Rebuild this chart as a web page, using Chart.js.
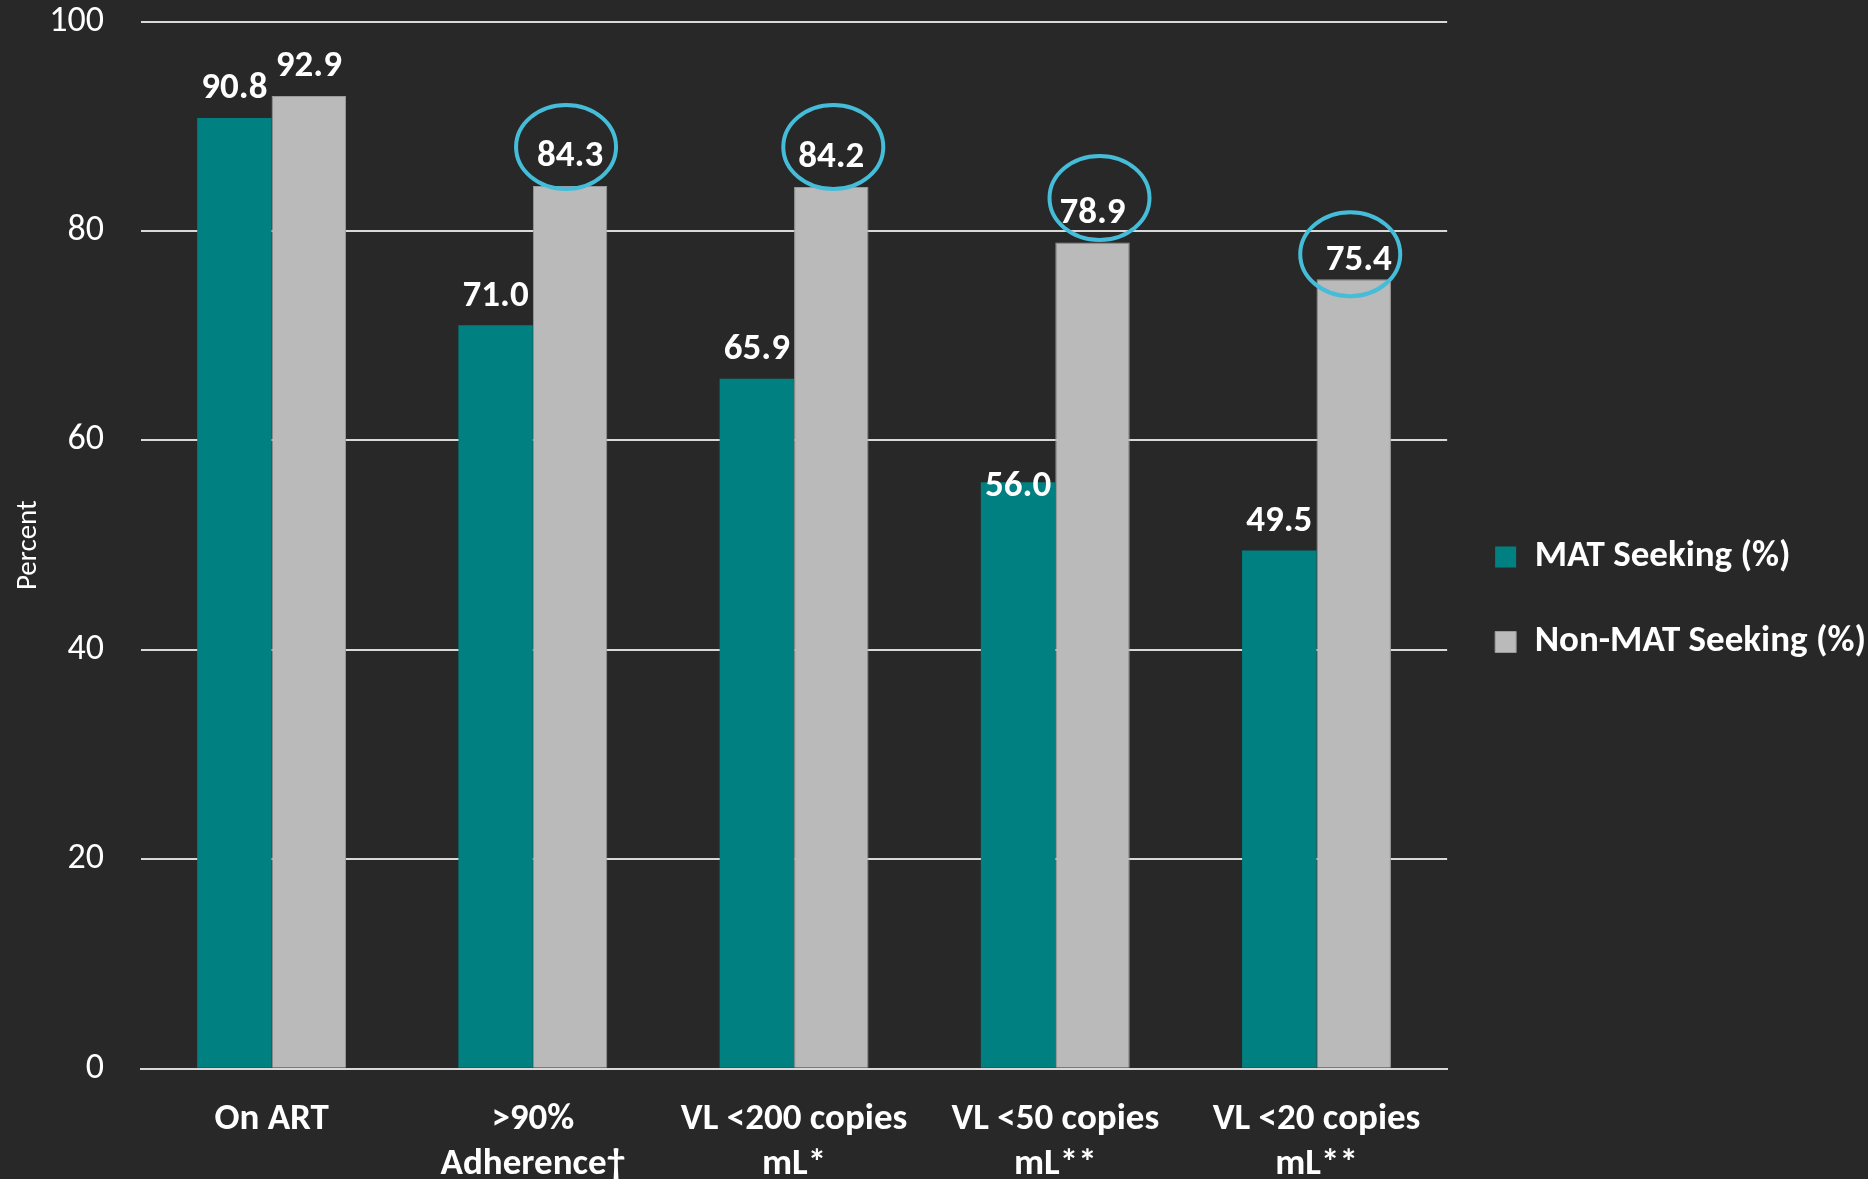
<!DOCTYPE html>
<html>
<head>
<meta charset="utf-8">
<script src="https://cdn.jsdelivr.net/npm/chart.js@4.4.1/dist/chart.umd.min.js"></script>
<style>
  html, body { margin: 0; padding: 0; background: #282828; overflow: hidden; }
  #wrap { position: relative; width: 1868px; height: 1179px; overflow: hidden; }
  #c { position: absolute; left: 0; top: -36.6px; }
</style>
</head>
<body>
<div id="wrap"><canvas id="c" width="1868" height="1285"></canvas></div>
<script>
const categories = ["On ART", [">90%", "Adherence\u2020"], ["VL <200 copies", "mL*"], ["VL <50 copies", "mL**"], ["VL <20 copies", "mL**"]];
const matSeeking = [90.8, 71.0, 65.9, 56.0, 49.5];
const nonMatSeeking = [92.9, 84.3, 84.2, 78.9, 75.4];
const highlighted = [false, true, true, true, true];
const yTicks = [0, 20, 40, 60, 80, 100];

const FONT = "Carlito, Lato, sans-serif";

const labelPlugin = {
  id: 'valueLabels',
  afterDatasetsDraw(chart) {
    const ctx = chart.ctx;
    const opts = chart.options.plugins.valueLabels;
    ctx.save();
    ctx.font = `bold ${opts.size}px ${FONT}`;
    ctx.fillStyle = '#ffffff';
    ctx.textAlign = 'center';
    ctx.textBaseline = 'middle';
    chart.data.datasets.forEach((ds, di) => {
      const meta = chart.getDatasetMeta(di);
      meta.data.forEach((bar, i) => {
        const sh = (opts.shifts[di] && opts.shifts[di][i]) || {};
        const dy = sh.dy !== undefined ? sh.dy : opts.offset;
        const dx = sh.dx || 0;
        ctx.fillText(ds.data[i].toFixed(1), bar.x + dx, bar.y - dy);
        if (di === 1 && highlighted[i]) {
          const c = opts.circles[i] || { dx: 0, dy: 40 };
          ctx.beginPath();
          ctx.strokeStyle = '#45bdd9';
          ctx.lineWidth = 4;
          ctx.ellipse(bar.x + c.dx, bar.y - c.dy, 50, 42, 0, 0, Math.PI * 2);
          ctx.stroke();
        }
      });
    });
    ctx.restore();
  }
};

new Chart(document.getElementById('c'), {
  type: 'bar',
  data: {
    labels: categories,
    datasets: [
      { label: 'MAT Seeking (%)', data: matSeeking, backgroundColor: '#008080', borderWidth: 0 },
      { label: 'Non-MAT Seeking (%)', data: nonMatSeeking, backgroundColor: '#bababa', borderColor: '#9a9a9a', borderWidth: 1 }
    ]
  },
  options: {
    responsive: false,
    animation: false,
    categoryPercentage: 0.57,
    barPercentage: 1.0,
    layout: { padding: { left: 11, top: 3, right: -8, bottom: 15 } },
    scales: {
      x: {
        afterFit(scale) { scale.height = 164.3; },
        grid: { display: false, drawTicks: false },
        border: { display: true, color: '#d9d9d9', width: 2 },
        ticks: {
          color: '#ffffff',
          padding: 28.5,
          maxRotation: 0,
          autoSkip: false,
          font: { family: FONT, size: 37, weight: 'bold', lineHeight: 1.22 }
        }
      },
      y: {
        min: 0, max: 100,
        afterFit(scale) { scale.width = 130; },
        afterBuildTicks(scale) { scale.ticks = yTicks.map(v => ({ value: v })); },
        grid: { color: '#d9d9d9', lineWidth: 2, drawTicks: false },
        border: { display: false },
        ticks: {
          color: '#ffffff',
          padding: 37,
          font: { family: FONT, size: 36 }
        },
        title: {
          display: true,
          text: 'Percent',
          color: '#ffffff',
          padding: { top: 0, bottom: 14 },
          font: { family: FONT, size: 29 }
        }
      }
    },
    plugins: {
      tooltip: { enabled: false },
      legend: {
        position: 'right',
        labels: {
          color: '#ffffff',
          boxWidth: 21,
          boxHeight: 21,
          padding: 48,
          font: { family: FONT, size: 37, weight: 'bold' }
        }
      },
      valueLabels: {
        size: 37,
        offset: 29,
        shifts: { 0: { 3: { dy: -4 } }, 1: { 4: { dy: 18.5, dx: 5 } } },
        circles: { 1: { dx: -4, dy: 39 }, 2: { dx: 2, dy: 40 }, 3: { dx: 7, dy: 44.5 }, 4: { dx: -3.5, dy: 25 } }
      }
    }
  },
  plugins: [labelPlugin]
});
</script>
</body>
</html>
